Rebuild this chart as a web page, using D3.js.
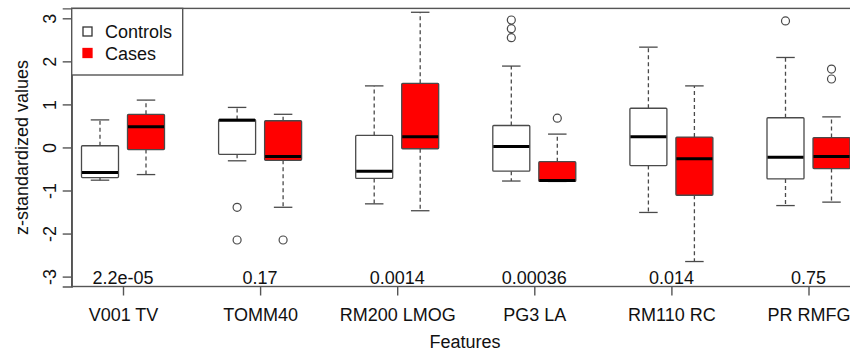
<!DOCTYPE html>
<html><head><meta charset="utf-8">
<script src="https://cdn.jsdelivr.net/npm/d3@7"></script>
<style>body{margin:0;background:#fff}svg{display:block}text{font-family:"Liberation Sans",Arial,sans-serif;fill:#111}</style>
</head><body><svg id="c" width="850" height="354"></svg>
<script>
const categories = ["V001 TV","TOMM40","RM200 LMOG","PG3 LA","RM110 RC","PR RMFG"];
const pValues = ["2.2e-05","0.17","0.0014","0.00036","0.014","0.75"];
const yTicks = [-3,-2,-1,0,1,2,3];
// Controls: [whiskerLow, q1, median, q3, whiskerHigh]
const controlsLow    = [-0.76,-0.31,-1.31,-0.78,-1.51,-1.35];
const controlsQ1     = [-0.70,-0.16,-0.72,-0.55,-0.42,-0.73];
const controlsMedian = [-0.58, 0.63,-0.55, 0.02, 0.25,-0.23];
const controlsQ3     = [ 0.04, 0.65, 0.28, 0.51, 0.91, 0.69];
const controlsHigh   = [ 0.64, 0.93, 1.43, 1.89, 2.33, 2.09];
const controlsOut    = [[],[-1.39,-2.15],[],[2.96,2.76,2.55],[],[2.94]];
const casesLow       = [-0.63,-1.39,-1.47,-0.79,-2.65,-1.27];
const casesQ1        = [-0.05,-0.30,-0.03,-0.79,-1.11,-0.49];
const casesMedian    = [ 0.48,-0.21, 0.25,-0.77,-0.26,-0.21];
const casesQ3        = [ 0.77, 0.62, 1.49,-0.33, 0.24, 0.23];
const casesHigh      = [ 1.10, 0.77, 3.14, 0.31, 1.43, 0.71];
const casesOut       = [[],[-2.15],[],[0.68],[],[1.82,1.59]];
const seriesNames = ["Controls","Cases"];
const seriesFill = ["#ffffff","#ff0000"];

const svg = d3.select("#c");
const L = 71.7, B = 286.5, T = 8.4, R = 870;
const y = d3.scaleLinear().domain([-3.23, 3.23]).range([B, T]);
const x = d3.scalePoint().domain(categories).range([123, 808.5]);
const off = [-23, 23], bw = 37;

const series = [
  {low:controlsLow,q1:controlsQ1,med:controlsMedian,q3:controlsQ3,high:controlsHigh,out:controlsOut},
  {low:casesLow,q1:casesQ1,med:casesMedian,q3:casesQ3,high:casesHigh,out:casesOut}
];
const stroke = "#4a4a4a";
series.forEach((s, si) => {
  categories.forEach((c, i) => {
    const cx = x(c) + off[si];
    const g = svg.append("g");
    // whiskers
    [[s.q3[i], s.high[i]], [s.q1[i], s.low[i]]].forEach(([a, b]) => {
      if (Math.abs(a - b) > 0.001) {
        g.append("line").attr("x1", cx).attr("x2", cx).attr("y1", y(a)).attr("y2", y(b))
          .attr("stroke", stroke).attr("stroke-width", 1.3).attr("stroke-dasharray", "4,3");
      }
      g.append("line").attr("x1", cx - bw/4).attr("x2", cx + bw/4).attr("y1", y(b)).attr("y2", y(b))
        .attr("stroke", stroke).attr("stroke-width", 1.3);
    });
    g.append("rect").attr("x", cx - bw/2).attr("width", bw)
      .attr("y", y(s.q3[i])).attr("height", y(s.q1[i]) - y(s.q3[i]))
      .attr("fill", seriesFill[si]).attr("stroke", stroke).attr("stroke-width", 1.3).attr("rx", 1);
    g.append("line").attr("x1", cx - bw/2 + 0.5).attr("x2", cx + bw/2 - 0.5)
      .attr("y1", y(s.med[i])).attr("y2", y(s.med[i])).attr("stroke", "#000").attr("stroke-width", 3);
    s.out[i].forEach(v => {
      g.append("circle").attr("cx", cx).attr("cy", y(v)).attr("r", 4)
        .attr("fill", "none").attr("stroke", stroke).attr("stroke-width", 1.2);
    });
  });
});

// frame
svg.append("rect").attr("x", L).attr("y", T).attr("width", R - L).attr("height", B - T)
  .attr("fill", "none").attr("stroke", "#555").attr("stroke-width", 1.4);

// y axis
const yAxis = d3.axisLeft(y).tickValues(yTicks).tickSize(9).tickFormat(d3.format("d"));
const ya = svg.append("g").attr("transform", `translate(${L},0)`).call(yAxis);
ya.select(".domain").attr("stroke", "#555").attr("stroke-width", 1.4);
ya.selectAll(".tick line").attr("stroke", "#555").attr("stroke-width", 1.4);
ya.selectAll(".tick text").attr("font-size", 18).attr("fill", "#111")
  .attr("text-anchor", "middle").attr("dy", null).attr("x", null)
  .attr("transform", "translate(-22,0) rotate(-90) translate(0,6)")
  .each(function(d){ d3.select(this).text(d < 0 ? "-" + Math.abs(d) : d); });
ya.attr("font-family", null);

// x axis
const xAxis = d3.axisBottom(x).tickSize(9).tickPadding(13);
const xa = svg.append("g").attr("transform", `translate(0,${B})`).call(xAxis);
xa.select(".domain").remove();
xa.selectAll(".tick line").attr("stroke", "#555").attr("stroke-width", 1.4);
xa.selectAll(".tick text").attr("font-size", 18).attr("fill", "#111");
xa.attr("font-family", null);

// p values
svg.selectAll(".pv").data(categories).enter().append("text")
  .attr("x", d => x(d)).attr("y", B - 3).attr("text-anchor", "middle").attr("font-size", 18)
  .text((d, i) => pValues[i]);

// axis titles
svg.append("text").attr("transform", `translate(28,${y(0)}) rotate(-90)`)
  .attr("text-anchor", "middle").attr("font-size", 18).text("z-standardized values");
svg.append("text").attr("x", 465).attr("y", 348).attr("text-anchor", "middle")
  .attr("font-size", 18).text("Features");

// legend
const lg = svg.append("g");
lg.append("rect").attr("x", L).attr("y", T).attr("width", 182.7 - L).attr("height", 75 - T)
  .attr("fill", "#fff").attr("stroke", "#555").attr("stroke-width", 1.4);
seriesNames.forEach((n, i) => {
  const cy = 31.5 + i * 21.5;
  lg.append("rect").attr("x", 83).attr("y", cy - 4.5).attr("width", 9).attr("height", 9)
    .attr("fill", seriesFill[i]).attr("stroke", i === 0 ? "#333" : "#ff0000").attr("stroke-width", 1.3);
  lg.append("text").attr("x", 105).attr("y", cy + 6.5).attr("font-size", 18).text(n);
});
</script></body></html>
